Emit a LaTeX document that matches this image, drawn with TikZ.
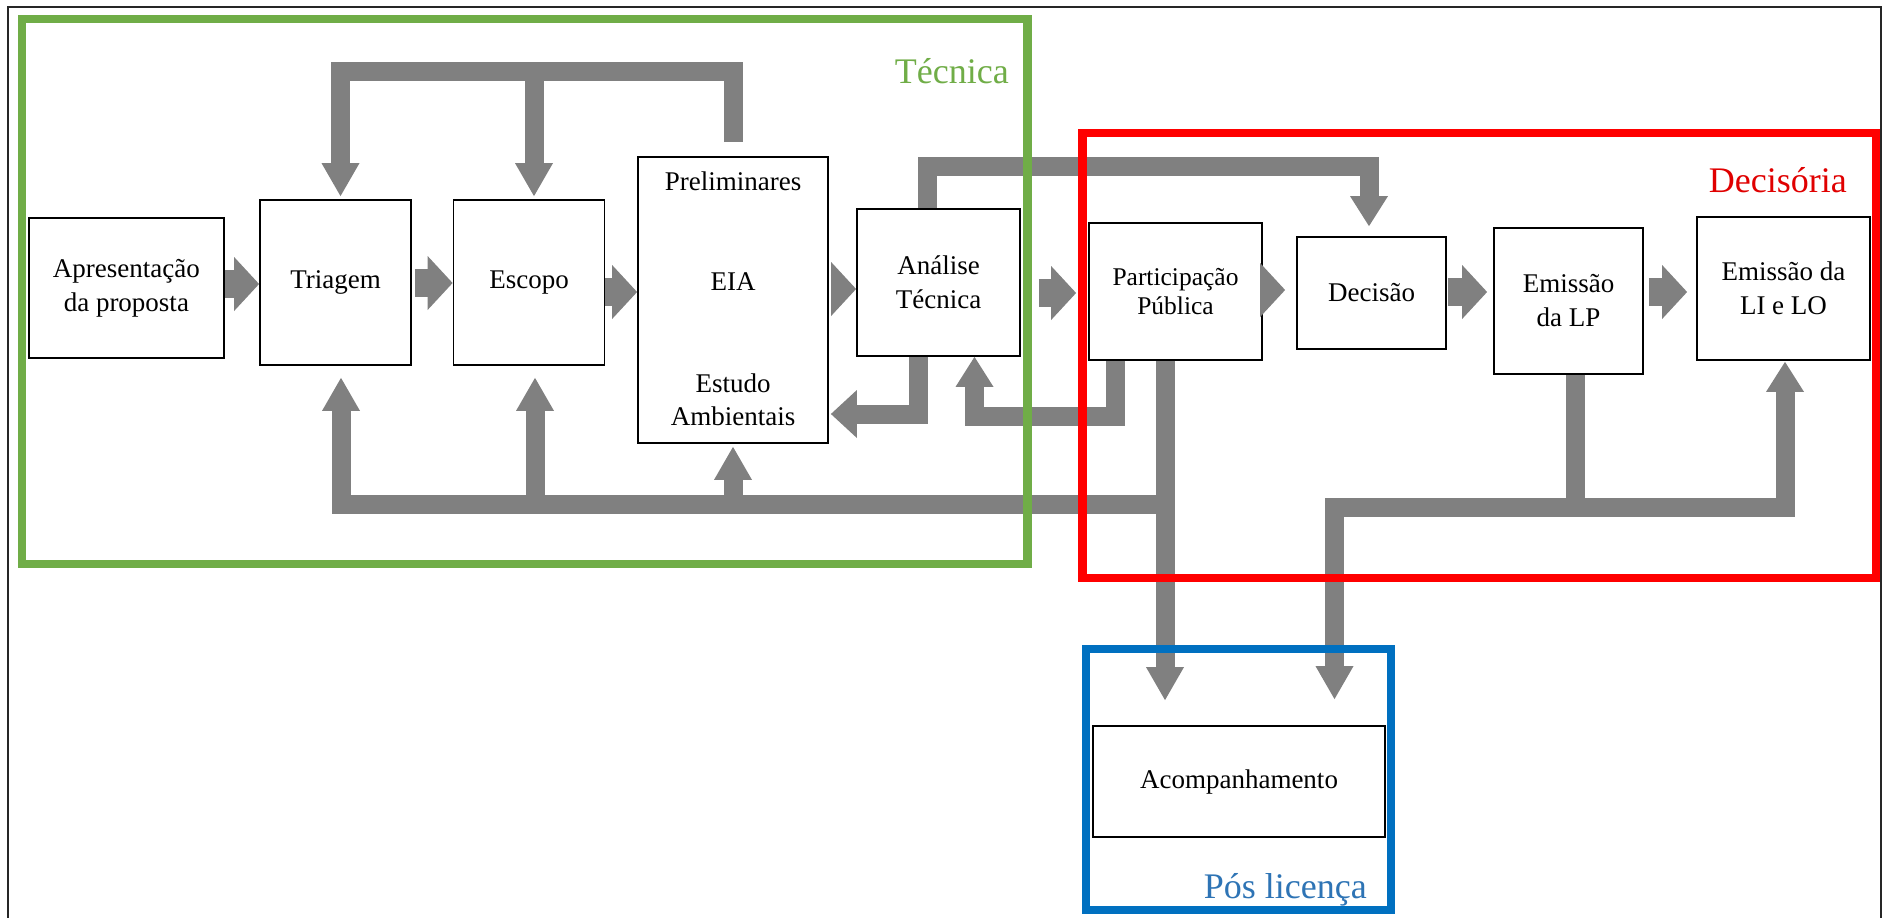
\documentclass[tikz,border=0pt]{standalone}
\usepackage{fontspec}
\setmainfont{Liberation Serif}
\newfontfamily\tnr{Liberation Serif}
\usetikzlibrary{arrows.meta,calc}
\definecolor{cgreen}{HTML}{70AD47}
\definecolor{cred}{HTML}{FF0000}
\definecolor{credtext}{HTML}{E00000}
\definecolor{cblue}{HTML}{0070C0}
\definecolor{cbluetext}{HTML}{2E74B5}
\definecolor{cgray}{HTML}{808080}
\begin{document}
\begin{tikzpicture}[x=1pt,y=-1pt,
  box/.style={draw=black, line width=1.8pt, fill=white, inner sep=0pt, align=center,
    font=\tnr\fontsize{27}{34}\selectfont},
  boxtext/.style={anchor=base, inner sep=0pt, font=\tnr\fontsize{27}{34}\selectfont},
  frame/.style={line width=8.5pt},
  fb/.style={draw=cgray, line width=19pt, line join=miter,
    -{Triangle[width=38pt,length=33pt,line width=0pt]}},
  fbshort/.style={draw=cgray, line width=19pt, line join=miter,
    -{Triangle[width=38pt,length=30pt,line width=0pt]}},
  bar/.style={draw=cgray, line width=19pt, line join=miter},
  harr/.style={draw=cgray, line width=28pt,
    -{Triangle[width=54pt,length=25pt,line width=0pt]}},
  lbl/.style={anchor=base east, inner sep=0pt, font=\tnr\fontsize{36}{43}\selectfont}
]
\useasboundingbox (0,0) rectangle (1883,918);
\fill[white] (0,0) rectangle (1883,918);

% ---------- boxes ----------
\node[box, minimum width=195pt, minimum height=140pt] (apr) at (126.4,288) {Apresentação\\da proposta};
\node[box, minimum width=151pt, minimum height=165pt] (tri) at (335.5,282.5) {Triagem};
\node[box, minimum width=151pt, minimum height=165pt] (esc) at (529,282.5) {Escopo};
\node[box, minimum width=190pt, minimum height=286pt] (eia) at (733,300) {};
\node[boxtext] (eiaP) at (733,190) {Preliminares};
\node[boxtext] (eiaE) at (733,290) {EIA};
\node[boxtext] (eiaS) at (733,392) {Estudo};
\node[boxtext] (eiaA) at (733,425) {Ambientais};
\node[box, minimum width=163pt, minimum height=147pt] (ana) at (938.5,282.5) {Análise\\Técnica};
\node[box, minimum width=173pt, minimum height=137pt, font=\tnr\fontsize{25.5}{29}\selectfont] (par) at (1175.5,291.5) {Participação\\Pública};
\node[box, minimum width=149pt, minimum height=112pt] (dec) at (1371.5,293) {Decisão};
\node[box, minimum width=149pt, minimum height=146pt] (lp) at (1568.5,301) {Emissão\\da LP};
\node[box, minimum width=173pt, minimum height=143pt] (li) at (1783.5,288.5) {Emissão da\\LI e LO};
\node[box, minimum width=292pt, minimum height=111pt] (aco) at (1239,781.5) {Acompanhamento};

% ---------- horizontal flow arrows ----------
\draw[harr] (apr.east |- 0,284) -- (tri.west |- 0,284);
\draw[harr] ($(tri.east |- 0,283)+(3,0)$) -- (esc.west |- 0,283);
\draw[harr] (esc.east |- 0,292) -- (eia.west |- 0,292);
\draw[harr] ($(eia.east |- 0,289)+(2,0)$) -- (ana.west |- 0,289);
\draw[harr] ($(ana.east |- 0,293)+(18,0)$) -- ($(par.west |- 0,293)+(-12,0)$);
\draw[harr] (par.east |- 0,290) -- ($(dec.west |- 0,290)+(-11,0)$);
\draw[harr] ($(dec.east |- 0,292)+(1,0)$) -- ($(lp.west |- 0,292)+(-6,0)$);
\draw[harr] ($(lp.east |- 0,292)+(5,0)$) -- ($(li.west |- 0,292)+(-9,0)$);

% ---------- top feedback (EIA -> Triagem, Escopo) ----------
\coordinate (topbar) at (0,71);
\coordinate (eiaT) at ($(eia.north)+(0,-14)$);
\coordinate (triN) at ($(tri.north)+(5,0)$);
\coordinate (escN) at ($(esc.north)+(5,0)$);
\draw[fb] (eiaT) -- (eiaT |- topbar) -- (triN |- topbar) -- ($(triN)+(0,-3)$);
\draw[fb] (escN |- topbar) -- ($(escN)+(0,-3)$);

% ---------- bottom feedback ----------
\coordinate (botbar) at (0,504);
\coordinate (parS) at ($(par.south)+(-10.5,0)$);
\coordinate (acoN) at ($(aco.north)+(-73,-25)$);
\coordinate (triS) at ($(tri.south)+(5.5,0)$);
\coordinate (escS) at ($(esc.south)+(6,0)$);
\draw[fb] (parS) -- (parS |- acoN);
\draw[fb] ($(parS |- botbar)+(5,0)$) -- (triS |- botbar) -- ($(triS)+(0,12)$);
\draw[fb] (escS |- botbar) -- ($(escS)+(0,12)$);
\draw[fb] (eia.south |- botbar) -- ($(eia.south)+(0,3)$);

% ---------- Analise -> Decisao ----------
\coordinate (midbar) at (0,166);
\coordinate (anaN) at ($(ana.north)+(-11,0)$);
\coordinate (decN) at ($(dec.north)+(-2.5,0)$);
\draw[fbshort] (anaN) -- (anaN |- midbar) -- (decN |- midbar) -- ($(decN)+(0,-10)$);

% ---------- Analise -> EIA ----------
\coordinate (fbA) at (0,414);
\coordinate (anaS) at ($(ana.south)+(-20,0)$);
\coordinate (eiaR) at ($(eia.east)+(2,0)$);
\draw[draw=cgray, line width=19pt, line join=miter,
  -{Triangle[width=48pt,length=26pt,line width=0pt]}]
  (anaS) -- (anaS |- fbA) -- (eiaR |- fbA);

% ---------- Participacao -> Analise ----------
\coordinate (fbB) at (0,416);
\coordinate (parS2) at ($(par.south)+(-60,0)$);
\coordinate (anaS2) at ($(ana.south)+(36,0)$);
\draw[fbshort] (parS2) -- (parS2 |- fbB) -- (anaS2 |- fbB) -- (anaS2);

% ---------- Emissao da LP -> LI e LO, Acompanhamento ----------
\coordinate (lpbar) at (0,507);
\coordinate (lpS) at ($(lp.south)+(6.5,0)$);
\coordinate (liS) at ($(li.south)+(1.5,0)$);
\coordinate (acoN2) at ($(aco.north)+(95.5,-26)$);
\draw[bar] (lpS) -- (lpS |- lpbar);
\draw[fb] (lpS |- lpbar) -- (acoN2 |- lpbar) -- (acoN2);
\draw[fbshort] (lpS |- lpbar) -- (liS |- lpbar) -- ($(liS)+(0,1)$);

% ---------- frames ----------
\draw[cgreen, frame] (22,19) rectangle (1027.5,564);
\draw[cred, frame] (1082.5,133) rectangle (1876,578);
\draw[cblue, frame] (1086,649) rectangle (1391,910);

% ---------- outer border ----------
\draw[black!85, line width=1.8pt] (8,918) -- (8,7) -- (1881,7) -- (1881,918);

% ---------- labels ----------
\node[lbl, text=cgreen] (ltec) at (1009,83) {Técnica};
\node[lbl, text=credtext] (ldec) at (1847,192) {Decisória};
\node[lbl, text=cbluetext] (lpos) at (1367,898) {Pós licença};
\end{tikzpicture}
\end{document}
